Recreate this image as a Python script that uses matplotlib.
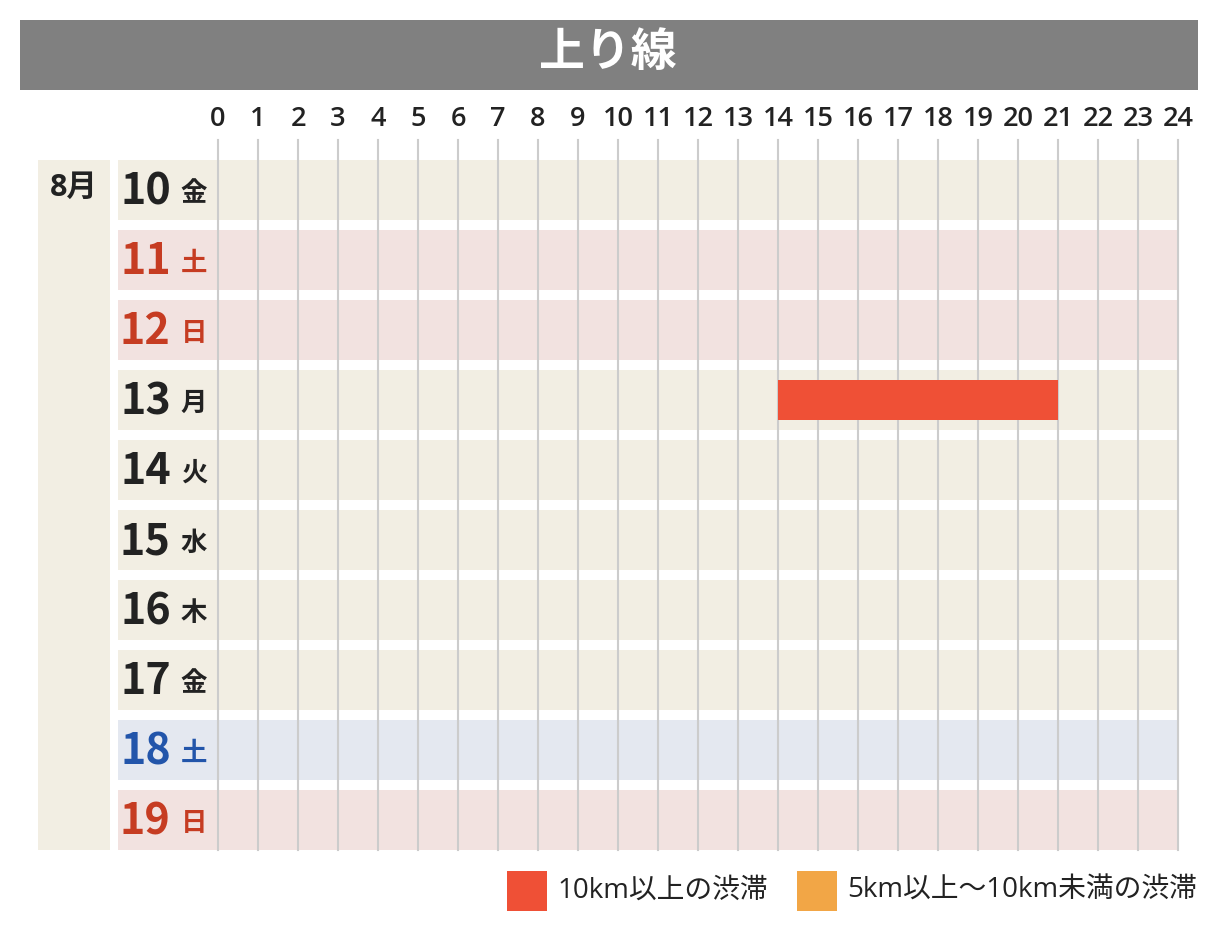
import matplotlib.pyplot as plt
from matplotlib.patches import Rectangle

plt.rcParams['font.family'] = ['Noto Sans CJK JP', 'DejaVu Sans']
num_font = ['Open Sans', 'Noto Sans CJK JP']

# data
days = [10, 11, 12, 13, 14, 15, 16, 17, 18, 19]
weekdays = ['金', '土', '日', '月', '火', '水', '木', '金', '土', '日']
day_kind = ['w', 'h', 'h', 'w', 'w', 'w', 'w', 'w', 's', 'h']  # w=平日, h=休日, s=土曜
hours = list(range(0, 25))
jam10 = [(13, 14, 21)]   # day, start hour, end hour
jam5 = []

band_col = {'w': '#f2eee3', 'h': '#f2e2e0', 's': '#e4e8f0'}
text_col = {'w': '#222222', 'h': '#c63c22', 's': '#2255aa'}
red = '#ef5036'
orange = '#f2a646'

fig = plt.figure(figsize=(12.18, 9.40), dpi=100)
ax = fig.add_axes([0, 0, 1, 1])
# 1 hour = 40 px, 1 row = 70 px
ax.set_xlim(-218 / 40, 1000 / 40)
ax.set_ylim(750 / 70, -190 / 70)
ax.axis('off')

# title bar
ax.add_patch(Rectangle((-4.95, -2.43), 29.45, 1.0, color='#808080', lw=0))
ax.text(9.75, -1.95, '上り線', color='white', fontsize=33, fontweight='bold',
        ha='center', va='center')

# hour labels + grid
for h in hours:
    ax.text(h, -1.02, str(h), fontsize=19.5, color='#222222', ha='center', va='center',
            family=num_font, fontweight='semibold')
    ax.plot([h, h], [-0.714, 9.43], color='#cccccc', lw=1.5, zorder=2)

# month column
ax.add_patch(Rectangle((-4.5, -0.43), 1.8, 9.86, color='#f2eee3', lw=0))
ax.text(-3.6, -0.03, '8月', fontsize=22, fontweight='bold', color='#222222',
        ha='center', va='center', family=num_font)

# day rows
for i, (d, wd, k) in enumerate(zip(days, weekdays, day_kind)):
    ax.add_patch(Rectangle((-2.5, i - 0.43), 26.5, 0.857, color=band_col[k], lw=0, zorder=1))
    ax.text(-1.18, i + 0.02, str(d), fontsize=31, fontweight='bold', color=text_col[k],
            ha='right', va='center')
    ax.text(-0.6, i + 0.05, wd, fontsize=19, fontweight='bold', color=text_col[k],
            ha='center', va='center')

# jam bars
for d, s, e in jam10:
    i = days.index(d)
    ax.add_patch(Rectangle((s, i - 0.286), e - s, 0.571, color=red, lw=0, zorder=3))
for d, s, e in jam5:
    i = days.index(d)
    ax.add_patch(Rectangle((s, i - 0.286), e - s, 0.571, color=orange, lw=0, zorder=3))

# legend
ly = (891 - 190) / 70
ax.add_patch(Rectangle(((507 - 218) / 40, ly - 0.286), 1.0, 0.571, color=red, lw=0))
ax.text((557 - 218) / 40, ly, '10km以上の渋滞', fontsize=20, color='#222222',
        ha='left', va='center', family=num_font)
ax.add_patch(Rectangle(((797 - 218) / 40, ly - 0.286), 1.0, 0.571, color=orange, lw=0))
ax.text((847 - 218) / 40, ly, '5km以上〜10km未満の渋滞', fontsize=20, color='#222222',
        ha='left', va='center', family=num_font)

plt.savefig('out.png', dpi=100)
